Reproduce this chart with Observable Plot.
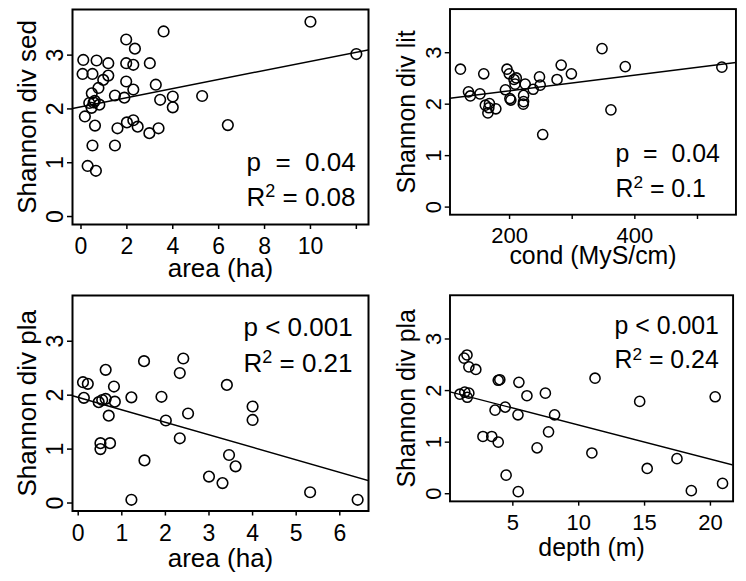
<!DOCTYPE html>
<html>
<head>
<meta charset="utf-8">
<script src="https://cdn.jsdelivr.net/npm/d3@7"></script>
<script src="https://cdn.jsdelivr.net/npm/@observablehq/plot@0.6"></script>
<style>
  html, body { margin: 0; padding: 0; background: #fff; }
  #chart { position: relative; width: 746px; height: 581px; overflow: hidden; background: #fff; }
  .panel { position: absolute; }
  .panel svg text { white-space: pre; }
</style>
</head>
<body>
<div id="chart"></div>
<script>
// Shared y axis (Shannon diversity)
const yDomain = [-0.148, 3.848];
const yTicks = [0, 1, 2, 3];

// Sediment diversity vs lake area
const sedArea = [10.0, 12.0, 3.6, 1.97, 2.35, 0.1, 0.68, 1.19, 1.97, 2.28, 3.0, 0.07, 0.5, 1.19, 0.97, 0.76, 0.47, 1.97, 2.28, 3.26, 1.48, 1.89, 3.45, 4.0, 4.0, 5.28, 0.36, 0.6, 0.8, 0.46, 0.55, 0.17, 0.61, 2.0, 2.28, 2.47, 1.59, 2.98, 3.38, 6.4, 1.48, 0.5, 0.29, 0.65];
const sedDiv  = [3.62, 3.02, 3.44, 3.29, 3.12, 2.91, 2.90, 2.85, 2.85, 2.82, 2.85, 2.65, 2.65, 2.62, 2.54, 2.39, 2.29, 2.51, 2.36, 2.45, 2.25, 2.21, 2.17, 2.23, 2.03, 2.24, 2.11, 2.15, 2.08, 2.02, 2.12, 1.86, 1.69, 1.75, 1.79, 1.67, 1.64, 1.55, 1.64, 1.70, 1.32, 1.32, 0.94, 0.85];
const sedFit = [2.04, 0.0845];

// Littoral diversity vs conductivity
const litCond = [121.6, 158.8, 134.4, 137.4, 152.7, 161.3, 167.9, 165.4, 178.1, 166.9, 195.9, 199.5, 207.1, 208.7, 193.4, 202.0, 200.5, 210.7, 224.9, 222.4, 222.4, 221.9, 237.7, 247.8, 248.9, 252.9, 275.8, 282.4, 298.7, 347.6, 361.8, 384.7, 538.9];
const litDiv  = [2.68, 2.59, 2.24, 2.16, 2.20, 1.98, 2.01, 1.83, 1.91, 1.93, 2.68, 2.59, 2.48, 2.39, 2.28, 2.08, 2.11, 2.51, 2.39, 2.17, 2.05, 2.00, 2.29, 2.53, 2.37, 1.41, 2.48, 2.76, 2.59, 3.08, 1.89, 2.73, 2.72];
const litFit = [1.955, 0.00152];

// Plankton diversity vs lake area
const plaArea = [0.11, 0.22, 0.13, 0.47, 0.55, 0.63, 0.63, 0.82, 0.84, 0.70, 0.51, 0.51, 0.73, 1.22, 1.51, 1.52, 1.22, 1.91, 2.01, 2.33, 2.41, 2.33, 2.52, 3.0, 3.31, 3.41, 3.46, 3.61, 4.0, 4.0, 5.32, 6.41];
const plaDivA = [2.24, 2.21, 1.95, 1.87, 1.91, 1.93, 2.47, 2.16, 1.88, 1.62, 1.11, 1.00, 1.11, 1.96, 2.63, 0.79, 0.06, 1.97, 1.53, 2.41, 2.68, 1.20, 1.66, 0.49, 0.37, 2.19, 0.89, 0.68, 1.79, 1.54, 0.20, 0.06];
const plaAreaFit = [1.96, -0.232];

// Plankton diversity vs depth
const plaDepth = [1.52, 1.30, 1.66, 2.19, 0.98, 1.35, 1.66, 1.54, 4.01, 3.89, 5.46, 6.07, 7.47, 3.65, 4.42, 5.39, 8.17, 2.73, 3.40, 3.89, 7.71, 6.84, 4.49, 5.41, 11.24, 11.0, 14.63, 15.2, 17.46, 18.55, 20.36, 20.92];
const plaDivD  = [2.69, 2.63, 2.46, 2.41, 1.93, 1.97, 1.95, 1.87, 2.21, 2.20, 2.16, 1.90, 1.95, 1.62, 1.68, 1.53, 1.53, 1.11, 1.11, 1.00, 1.20, 0.89, 0.36, 0.04, 2.24, 0.79, 1.79, 0.49, 0.68, 0.06, 1.88, 0.20];
const plaDepthFit = [1.99, -0.066];

// Axis ticks and their labels (blank = tick without label)
const areaTicks1 = [0, 2, 4, 6, 8, 10, 12];
const areaLabels1 = ["0", "2", "4", "6", "8", "10", ""];
const condTicks = [200, 300, 400, 500];
const condLabels = ["200", "", "400", ""];
const areaTicks2 = [0, 1, 2, 3, 4, 5, 6];
const areaLabels2 = ["0", "1", "2", "3", "4", "5", "6"];
const depthTicks = [5, 10, 15, 20];
const depthLabels = ["5", "10", "15", "20"];

// Axis titles and statistics
const xTitles = ["area (ha)", "cond (MyS/cm)", "area (ha)", "depth (m)"];
const yTitles = ["Shannon div sed", "Shannon div lit", "Shannon div pla", "Shannon div pla"];
const pLabels = ["p  =  0.04", "p  =  0.04", "p < 0.001", "p < 0.001"];
const r2Values = ["0.08", "0.1", "0.21", "0.24"];

const FONT = "'Liberation Sans', Arial, Helvetica, sans-serif";

function panel(o) {
  const [a, b] = o.fit;
  const idx = o.x.map((_, i) => i);
  const labelOf = new Map(o.ticks.map((t, i) => [t, o.tickLabels[i]]));
  const svg = Plot.plot({
    width: o.box.width,
    height: o.box.height,
    marginTop: o.box.top,
    marginLeft: o.box.left,
    marginRight: o.box.right,
    marginBottom: o.box.bottom,
    style: {fontFamily: FONT, fontSize: "23px", color: "#000", background: "transparent", overflow: "visible"},
    x: {domain: o.xDomain},
    y: {domain: yDomain},
    marks: [
      Plot.line(o.xDomain, {x: d => d, y: d => a + b * d, stroke: "#000", strokeWidth: 1.5, clip: true}),
      Plot.dot(idx, {x: i => o.x[i], y: i => o.y[i], r: 5.3, stroke: "#000", strokeWidth: 1.6, fill: "none"}),
      Plot.frame({stroke: "#000", strokeWidth: 2}),
      Plot.axisX({ticks: o.ticks, tickFormat: d => labelOf.get(d), tickSize: 5, tickPadding: 8.5,
                  strokeWidth: 1.5, fontSize: 23, label: null}),
      Plot.axisY({ticks: yTicks, tickFormat: d => String(d), tickRotate: -90, tickSize: 5, tickPadding: 4.5,
                  strokeWidth: 1.5, fontSize: 23, label: null}),
      Plot.text([o.xTitle], {text: d => d, frameAnchor: "bottom", dy: o.box.xTitleDy, lineAnchor: "bottom", fontSize: 26}),
      Plot.text([o.yTitle], {text: d => d, frameAnchor: "left", dx: -37, rotate: -90, textAnchor: "middle",
                             lineAnchor: "bottom", fontSize: 26}),
      Plot.text([o.p], {text: d => d, frameAnchor: "top-left", dx: o.box.statDx, dy: o.box.pDy,
                        textAnchor: "start", lineAnchor: "bottom", fontSize: 26}),
      Plot.text([o.r2], {text: d => "R2 = " + d, frameAnchor: "top-left", dx: o.box.statDx, dy: o.box.r2Dy,
                         textAnchor: "start", lineAnchor: "bottom", fontSize: 26, className: "r2"})
    ]
  });
  // Typeset the "2" of R2 as a raised superscript
  svg.querySelectorAll(".r2 text").forEach(t => {
    const value = t.textContent.replace(/^R2 = /, "");
    t.textContent = "";
    const ns = "http://www.w3.org/2000/svg";
    const base = document.createElementNS(ns, "tspan");
    base.textContent = "R";
    const sup = document.createElementNS(ns, "tspan");
    sup.textContent = "2";
    sup.setAttribute("font-size", "18");
    sup.setAttribute("dy", "-9");
    const rest = document.createElementNS(ns, "tspan");
    rest.textContent = " = " + value;
    rest.setAttribute("dy", "9");
    t.append(base, sup, rest);
  });
  return svg;
}

const panels = [
  {pos: [0, 0], x: sedArea, y: sedDiv, fit: sedFit, xDomain: [-0.37, 12.53],
   ticks: areaTicks1, tickLabels: areaLabels1, xTitle: xTitles[0], yTitle: yTitles[0], p: pLabels[0], r2: r2Values[0],
   box: {width: 373, height: 290, top: 9, left: 72, right: 5, bottom: 66, xTitleDy: 52, statDx: 174, pDy: 161, r2Dy: 196}},
  {pos: [373, 0], x: litCond, y: litDiv, fit: litFit, xDomain: [104.9, 561.4],
   ticks: condTicks, tickLabels: condLabels, xTitle: xTitles[1], yTitle: yTitles[1], p: pLabels[1], r2: r2Values[1],
   box: {width: 390, height: 290, top: 9, left: 80, right: 11, bottom: 66, xTitleDy: 52, statDx: 173, pDy: 160, r2Dy: 196}},
  {pos: [0, 290], x: plaArea, y: plaDivA, fit: plaAreaFit, xDomain: [-0.131, 6.659],
   ticks: areaTicks2, tickLabels: areaLabels2, xTitle: xTitles[2], yTitle: yTitles[2], p: pLabels[2], r2: r2Values[2],
   box: {width: 373, height: 291, top: 5, left: 72, right: 5, bottom: 70.5, xTitleDy: 56, statDx: 171, pDy: 40.5, r2Dy: 76.5}},
  {pos: [373, 290], x: plaDepth, y: plaDivD, fit: plaDepthFit, xDomain: [0.229, 21.72],
   ticks: depthTicks, tickLabels: depthLabels, xTitle: xTitles[3], yTitle: yTitles[3], p: pLabels[3], r2: r2Values[3],
   box: {width: 390, height: 291, top: 5, left: 80, right: 14, bottom: 70.5, xTitleDy: 57, statDx: 172, pDy: 40.5, r2Dy: 76.5}}
];

const chart = document.getElementById("chart");
for (const p of panels) {
  const div = document.createElement("div");
  div.className = "panel";
  div.style.left = p.pos[0] + "px";
  div.style.top = p.pos[1] + "px";
  div.appendChild(panel(p));
  chart.appendChild(div);
}
</script>
</body>
</html>
